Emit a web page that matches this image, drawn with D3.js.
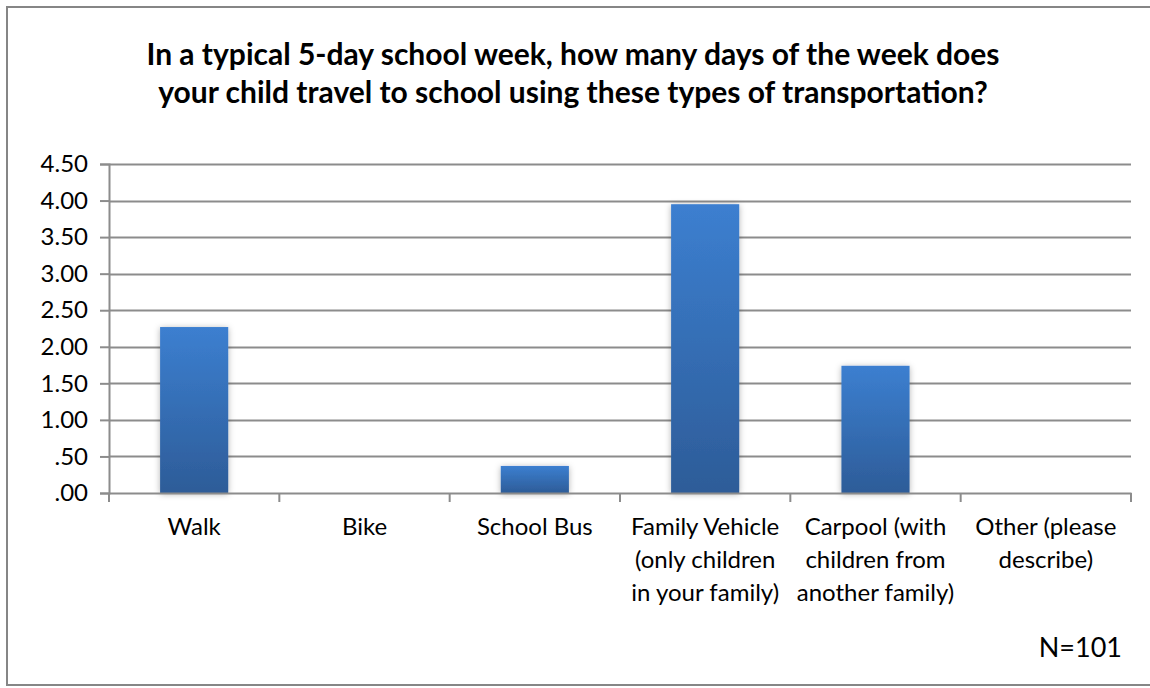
<!DOCTYPE html>
<html>
<head>
<meta charset="utf-8">
<script src="https://d3js.org/d3.v7.min.js"></script>
<style>
	body { margin: 0; background: #fff; }
	text { font-family: Lato, "Open Sans", sans-serif; }
</style>
</head>
<body>
<div id="chart"></div>
<script>
const categories = [
	['Walk'],
	['Bike'],
	['School Bus'],
	['Family Vehicle', '(only children', 'in your family)'],
	['Carpool (with', 'children from', 'another family)'],
	['Other (please', 'describe)']
];
const values = [2.27, 0, 0.37, 3.95, 1.74, 0];
const yTicks = [0, 0.5, 1, 1.5, 2, 2.5, 3, 3.5, 4, 4.5];
const titleLines = [
	'In a typical 5-day school week, how many days of the week does',
	'your child travel to school using these types of transportation?'
];
const note = 'N=101';

const width = 1150, height = 688;
const margin = { left: 109, right: 1131, top: 164, bottom: 493 };

const svg = d3.select('#chart').append('svg')
	.attr('width', width)
	.attr('height', height);

// outer frame (right edge runs off the picture)
svg.append('rect')
	.attr('x', 7).attr('y', 7)
	.attr('width', 1160).attr('height', 678)
	.attr('fill', '#fff')
	.attr('stroke', '#868686')
	.attr('stroke-width', 2);

const defs = svg.append('defs');
const grad = defs.append('linearGradient')
	.attr('id', 'barGrad')
	.attr('x1', 0).attr('y1', 0).attr('x2', 0).attr('y2', 1);
grad.append('stop').attr('offset', '0%').attr('stop-color', '#3c7fd0');
grad.append('stop').attr('offset', '100%').attr('stop-color', '#2d5c98');

const shadow = defs.append('filter').attr('id', 'shadow')
	.attr('x', '-20%').attr('y', '-20%').attr('width', '140%').attr('height', '140%');
shadow.append('feDropShadow')
	.attr('dx', 0).attr('dy', 1).attr('stdDeviation', 3)
	.attr('flood-color', '#000').attr('flood-opacity', 0.3);

const x = d3.scaleBand()
	.domain(d3.range(categories.length))
	.range([margin.left, margin.right])
	.paddingInner(0.6)
	.paddingOuter(0.3);

const xOuter = d3.scaleBand()
	.domain(d3.range(categories.length))
	.range([margin.left, margin.right]);

const y = d3.scaleLinear()
	.domain([0, 4.5])
	.range([margin.bottom, margin.top]);

// gridlines
svg.append('g')
	.selectAll('line')
	.data(yTicks.filter(d => d > 0))
	.enter().append('line')
	.attr('x1', margin.left)
	.attr('x2', margin.right)
	.attr('y1', d => Math.round(y(d)) + 0.5)
	.attr('y2', d => Math.round(y(d)) + 0.5)
	.attr('stroke', '#8c8c8c')
	.attr('stroke-width', 2);

// bars
svg.append('g')
	.selectAll('rect')
	.data(values.map((v, i) => ({ v, i })).filter(d => d.v > 0))
	.enter().append('rect')
	.attr('x', d => x(d.i))
	.attr('y', d => y(d.v))
	.attr('width', x.bandwidth())
	.attr('height', d => y(0) - y(d.v))
	.attr('fill', 'url(#barGrad)')
	.attr('filter', 'url(#shadow)');

// y axis
const yAxis = d3.axisLeft(y)
	.tickValues(yTicks)
	.tickSize(9)
	.tickPadding(12)
	.tickFormat(d => d3.format('.2f')(d).replace(/^0/, ''));

const yg = svg.append('g')
	.attr('transform', `translate(${margin.left},0)`)
	.call(yAxis);
yg.select('.domain').attr('stroke', '#8c8c8c').attr('stroke-width', 2);
yg.selectAll('.tick line').attr('stroke', '#8c8c8c').attr('stroke-width', 2);
yg.selectAll('.tick text')
	.attr('fill', '#000')
	.style('font-size', '24px')
	.style('font-family', 'Lato, "Open Sans", sans-serif');

// x axis
const xAxis = d3.axisBottom(xOuter)
	.tickSize(0)
	.tickFormat('');
const xg = svg.append('g')
	.attr('transform', `translate(0,${margin.bottom})`)
	.call(xAxis);
xg.select('.domain').attr('stroke', '#8c8c8c').attr('stroke-width', 2);

// category separators
const seps = d3.range(categories.length + 1).map(i => margin.left + i * xOuter.bandwidth());
xg.selectAll('.sep')
	.data(seps)
	.enter().append('line')
	.attr('class', 'sep')
	.attr('x1', d => d).attr('x2', d => d)
	.attr('y1', 0).attr('y2', 9)
	.attr('stroke', '#8c8c8c')
	.attr('stroke-width', 2);

// category labels
const labels = svg.append('g')
	.selectAll('text')
	.data(categories)
	.enter().append('text')
	.attr('text-anchor', 'middle')
	.attr('fill', '#000')
	.style('font-size', '24px')
	.attr('transform', (d, i) => `translate(${xOuter(i) + xOuter.bandwidth() / 2},535)`);

labels.selectAll('tspan')
	.data(d => d)
	.enter().append('tspan')
	.attr('x', 0)
	.attr('y', (d, i) => i * 33)
	.text(d => d);

// title
svg.append('g')
	.selectAll('text')
	.data(titleLines)
	.enter().append('text')
	.attr('x', 573)
	.attr('y', (d, i) => 65 + i * 38)
	.attr('text-anchor', 'middle')
	.attr('fill', '#000')
	.style('font-size', '30px')
	.style('font-weight', 'bold')
	.text(d => d);

// sample size
svg.append('text')
	.attr('x', 1122)
	.attr('y', 657)
	.attr('text-anchor', 'end')
	.attr('fill', '#000')
	.style('font-size', '27px')
	.text(note);
</script>
</body>
</html>
